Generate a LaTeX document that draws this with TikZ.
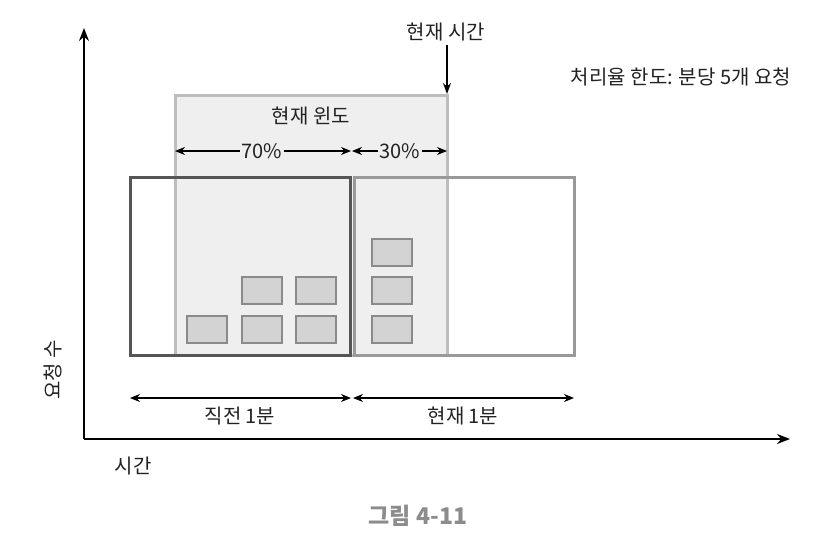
\documentclass[tikz,border=0pt]{standalone}
\usepackage{fontspec}
\setmainfont{Noto Sans CJK KR}
\usetikzlibrary{arrows.meta}
\definecolor{txt}{HTML}{222222}
\definecolor{winfill}{HTML}{EFEFEF}
\definecolor{winborder}{HTML}{BDBDBD}
\definecolor{prevborder}{HTML}{555555}
\definecolor{curborder}{HTML}{999999}
\definecolor{reqfill}{HTML}{D3D3D3}
\definecolor{reqborder}{HTML}{8A8A8A}
\definecolor{capcol}{HTML}{8C8C8C}
\begin{document}
\begin{tikzpicture}[x=1pt,y=-1pt,
  lbl/.style={font=\fontsize{20}{24}\selectfont, text=txt, inner sep=1pt},
  tip/.style={-{Stealth[length=11pt,width=8pt]}, line width=1.2pt},
  axisline/.style={-{Stealth[length=13pt,width=10pt]}, line width=1.5pt},
  dtip/.style={{Stealth[length=10pt,width=8pt]}-{Stealth[length=10pt,width=8pt]}, line width=1.2pt},
  winbox/.style={draw=winborder, fill=winfill, line width=3pt, minimum width=272pt, minimum height=260pt, inner sep=0pt, outer sep=0pt},
  minbox/.style={line width=3pt, minimum width=220pt, minimum height=178pt, inner sep=0pt},
  req/.style={draw=reqborder, fill=reqfill, line width=1.5pt, minimum width=40pt, minimum height=27pt, inner sep=0pt},
]
\useasboundingbox (0,0) rectangle (836,552);

% axes
\coordinate (origin) at (84,439);
\coordinate (ytop) at (84,28);
\coordinate (xend) at (790,439);
\draw[axisline] (origin) -- (ytop);
\draw[axisline] (origin) -- (xend);

% current window
\node[winbox] (win) at (311,225) {};
\node[lbl] (winlbl) at (311,116) {현재 윈도};

% minute boxes
\node[minbox, draw=prevborder] (prev) at (240,266) {};
\node[minbox, draw=curborder] (cur) at (464,266) {};

% requests
\node[req] (r1) at (207,329.5) {};
\node[req] (r2) at (262,329.5) {};
\node[req] (r3) at (316,329.5) {};
\node[req] (r4) at (262,290.5) {};
\node[req] (r5) at (316,290.5) {};
\node[req] (r6) at (392,252.5) {};
\node[req] (r7) at (392,290.5) {};
\node[req] (r8) at (392,329.5) {};

% current time
\node[lbl] (nowlbl) at (446,32) {현재 시간};
\coordinate (nowstart) at (447,45);
\coordinate (nowtip) at (447,94);
\draw[tip] (nowstart) -- (nowtip);

% percentages
\coordinate (p70a) at (175,151);
\coordinate (p70b) at (351,151);
\coordinate (p30a) at (352,151);
\coordinate (p30b) at (447,151);
\draw[dtip] (p70a) -- (p70b);
\draw[dtip] (p30a) -- (p30b);
\node[lbl, fill=winfill, inner sep=2pt] (l70) at (262,151) {70\%};
\node[lbl, fill=winfill, inner sep=2pt] (l30) at (400,151) {30\%};

% minute spans
\coordinate (bpa) at (130,398);
\coordinate (bpb) at (351,398);
\coordinate (bca) at (353,398);
\coordinate (bcb) at (574,398);
\draw[dtip] (bpa) -- (bpb);
\draw[dtip] (bca) -- (bcb);
\node[lbl] (prevlbl) at (240,416) {직전 1분};
\node[lbl] (curlbl) at (463,416) {현재 1분};

% other labels
\node[lbl] (limit) at (681,77) {처리율 한도: 분당 5개 요청};
\node[lbl, rotate=90] (ylbl) at (53,370) {요청 수};
\node[lbl] (xlbl) at (133,466) {시간};
\node[font=\fontsize{23}{27}\selectfont\bfseries, text=capcol] (cap) at (418,516) {그림 4-11};
\end{tikzpicture}
\end{document}
